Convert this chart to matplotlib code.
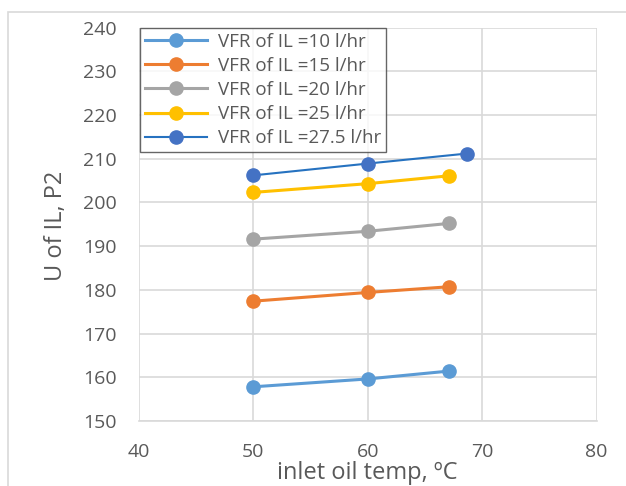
import matplotlib
matplotlib.use("Agg")
import matplotlib.pyplot as plt
from matplotlib.patches import Rectangle

# inlet oil temperature (deg C) and overall heat transfer coefficient
temps = [50, 60, 67.1]
temps_275 = [50, 60, 68.7]

u_10 = [157.8, 159.6, 161.4]
u_15 = [177.4, 179.4, 180.7]
u_20 = [191.6, 193.4, 195.2]
u_25 = [202.3, 204.3, 206.1]
u_275 = [206.2, 208.9, 211.2]

labels = [
    "VFR of IL =10 l/hr",
    "VFR of IL =15 l/hr",
    "VFR of IL =20 l/hr",
    "VFR of IL =25 l/hr",
    "VFR of IL =27.5 l/hr",
]

plt.rcParams["font.family"] = ["Open Sans", "DejaVu Sans"]
text_col = "#595959"
grid_col = "#d9d9d9"

fig = plt.figure(figsize=(6.26, 4.86), dpi=100)
ax = fig.add_axes([0.222, 0.134, 0.731, 0.809])

# outer chart border
fig.patches.append(Rectangle((8 / 626, -0.1), 1.2, (486 - 12) / 486 + 0.1,
                             transform=fig.transFigure, fill=False,
                             edgecolor=grid_col, linewidth=1.2))

series = [
    (temps, u_10, "#5b9bd5", "#5b9bd5", 2.2),
    (temps, u_15, "#ed7d31", "#ed7d31", 2.2),
    (temps, u_20, "#a5a5a5", "#a5a5a5", 2.2),
    (temps, u_25, "#ffc000", "#ffc000", 2.2),
    (temps_275, u_275, "#2672c0", "#4472c4", 1.5),
]
for (x, y, lc, mc, lw), lab in zip(series, labels):
    ax.plot(x, y, color=lc, linewidth=lw, marker="o", markersize=9.5,
            markerfacecolor=mc, markeredgecolor=mc, label=lab, zorder=3)

ax.set_xlim(40, 80)
ax.set_ylim(150, 240)
ax.set_xticks(range(40, 81, 10))
ax.set_yticks(range(150, 241, 10))
ax.grid(True, color=grid_col, linewidth=1.2)
ax.set_axisbelow(True)
for s in ["top", "right", "left"]:
    ax.spines[s].set_visible(False)
ax.spines["bottom"].set_color(grid_col)
ax.spines["bottom"].set_linewidth(1.2)
ax.tick_params(length=0, labelsize=14, colors=text_col)
ax.tick_params(axis="y", pad=16)
ax.tick_params(axis="x", pad=16)

ax.set_xlabel("inlet oil temp, ºC", fontsize=17, color=text_col)
ax.xaxis.set_label_coords(0.498, -0.102)
ax.set_ylabel("U of IL, P2", fontsize=17, color=text_col)
ax.yaxis.set_label_coords(-0.155, 0.496)

leg = ax.legend(loc="upper left", bbox_to_anchor=(140 / 626, 1 - 28 / 486),
                bbox_transform=fig.transFigure, fontsize=13.5, frameon=True,
                fancybox=False, handlelength=3.3, borderpad=0.25,
                labelspacing=0.33, handletextpad=0.6, borderaxespad=0)
leg.get_frame().set_edgecolor("#404040")
leg.get_frame().set_linewidth(1.0)
for t in leg.get_texts():
    t.set_color(text_col)

plt.savefig("out.png", dpi=100)
